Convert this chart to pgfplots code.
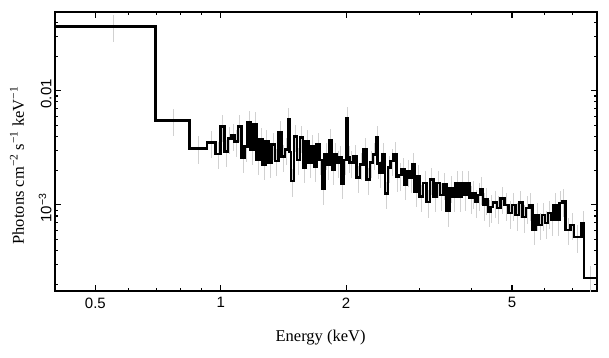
\documentclass[border=0pt]{standalone}
\usepackage{fontspec}
\setmainfont{Liberation Serif}
\setsansfont{Liberation Sans}
\usepackage{pgfplots}
\usepackage{pgfplotstable}
\pgfplotsset{compat=1.18}
\pgfplotstableread{
E Ec F
0.400 0.552 0.0364
0.697 0.769 5.48e-3
0.840 0.882 3.14e-3
0.927 0.948 3.52e-3
0.970 0.985 2.80e-3
1.00 1.01 4.84e-3
1.02 1.03 2.92e-3
1.04 1.05 3.81e-3
1.06 1.07 4.03e-3
1.08 1.09 3.57e-3
1.10 1.11 4.84e-3
1.12 1.13 2.59e-3
1.14 1.15 3.23e-3
1.16 1.17 5.24e-3
1.18 1.19 3.04e-3
1.20 1.21 5.13e-3
1.22 1.23 2.48e-3
1.24 1.25 3.72e-3
1.26 1.27 2.25e-3
1.28 1.29 3.57e-3
1.300 1.3125 2.34e-3
1.325 1.3375 3.36e-3
1.350 1.3625 2.43e-3
1.375 1.3875 4.29e-3
1.400 1.4125 2.64e-3
1.425 1.4375 3.04e-3
1.450 1.456 5.57e-3
1.4625 1.469 2.90e-3
1.475 1.4875 1.62e-3
1.500 1.5125 3.95e-3
1.525 1.5375 2.48e-3
1.550 1.5625 3.88e-3
1.575 1.5875 2.12e-3
1.600 1.6125 3.57e-3
1.625 1.6375 2.34e-3
1.650 1.6625 3.23e-3
1.675 1.6875 2.16e-3
1.700 1.7125 3.36e-3
1.725 1.7375 2.48e-3
1.750 1.7625 1.38e-3
1.775 1.7875 2.75e-3
1.800 1.8125 2.25e-3
1.825 1.8375 3.65e-3
1.850 1.8625 2.03e-3
1.875 1.8875 2.75e-3
1.900 1.9125 2.34e-3
1.925 1.9375 2.59e-3
1.950 1.9625 1.53e-3
1.975 1.9875 2.48e-3
2.00 2.01 5.68e-3
2.02 2.03 2.60e-3
2.04 2.06 2.34e-3
2.08 2.10 2.64e-3
2.12 2.14 1.73e-3
2.16 2.18 2.25e-3
2.20 2.22 3.04e-3
2.24 2.26 1.66e-3
2.28 2.30 2.34e-3
2.32 2.34 2.75e-3
2.36 2.37 3.88e-3
2.38 2.39 2.30e-3
2.40 2.42 1.91e-3
2.44 2.46 2.75e-3
2.48 2.50 1.25e-3
2.52 2.54 2.12e-3
2.56 2.58 2.43e-3
2.60 2.62 2.80e-3
2.64 2.66 1.77e-3
2.68 2.70 1.83e-3
2.72 2.74 2.03e-3
2.76 2.78 1.50e-3
2.80 2.82 1.95e-3
2.84 2.86 1.73e-3
2.88 2.90 2.25e-3
2.92 2.94 1.30e-3
2.96 2.98 1.77e-3
3.00 3.03 1.18e-3
3.06 3.09 1.56e-3
3.12 3.15 1.06e-3
3.18 3.21 1.66e-3
3.24 3.27 1.18e-3
3.30 3.33 1.56e-3
3.36 3.39 1.22e-3
3.42 3.45 1.50e-3
3.48 3.51 8.85e-4
3.54 3.57 1.41e-3
3.60 3.63 1.18e-3
3.66 3.69 1.56e-3
3.72 3.75 1.18e-3
3.78 3.81 1.56e-3
3.84 3.87 1.22e-3
3.90 3.93 1.56e-3
3.96 3.99 1.15e-3
4.02 4.05 1.27e-3
4.08 4.11 1.06e-3
4.14 4.17 1.22e-3
4.20 4.23 1.38e-3
4.26 4.29 1.00e-3
4.32 4.35 1.11e-3
4.38 4.41 8.69e-4
4.44 4.47 9.60e-4
4.50 4.55 1.05e-3
4.60 4.65 9.40e-4
4.70 4.75 1.13e-3
4.80 4.85 1.00e-3
4.90 4.95 8.50e-4
5.00 5.05 1.00e-3
5.10 5.15 8.17e-4
5.20 5.25 1.05e-3
5.30 5.35 7.85e-4
5.40 5.45 9.40e-4
5.50 5.55 1.00e-3
5.60 5.65 6.04e-4
5.70 5.75 8.17e-4
5.80 5.85 6.68e-4
5.90 5.95 8.17e-4
6.00 6.05 6.95e-4
6.10 6.15 8.50e-4
6.20 6.25 7.38e-4
6.30 6.35 1.00e-3
6.40 6.45 7.38e-4
6.50 6.55 1.04e-3
6.60 6.66 1.08e-3
6.73 6.82 6.04e-4
6.92 6.98 6.68e-4
7.04 7.19 5.24e-4
7.35 7.40 6.95e-4
7.45 7.72 2.29e-4
8.00 nan 2.29e-4
}\spec

\begin{document}
\begin{tikzpicture}
\begin{axis}[
  name=ax,
  xmode=log, ymode=log,
  scale only axis,
  width=542pt, height=279pt,
  xmin=0.4, xmax=8, ymin=1.76e-4, ymax=0.049,
  axis line style={line width=1.2pt},
  tick style={line width=1.1pt, black},
  tick align=inside,
  xtick pos=both, ytick pos=both,
  xticklabel pos=lower, yticklabel pos=left,
  major tick length=6pt, minor tick length=3.5pt,
  xtick={0.5,1,2,5}, xticklabels={0.5,1,2,5},
  minor xtick={0.4,0.6,0.7,0.8,0.9,3,4,6,7,8},
  ytick={0.001,0.01}, yticklabels={10\textsuperscript{−3},0.01},
  minor ytick={2e-4,3e-4,4e-4,5e-4,6e-4,7e-4,8e-4,9e-4,2e-3,3e-3,4e-3,5e-3,6e-3,7e-3,8e-3,9e-3,0.02,0.03,0.04},
  ticklabel style={font=\sffamily\fontsize{15}{18}\selectfont},
  xticklabel style={yshift=-3pt},
  yticklabel style={rotate=90, anchor=south, xshift=-3pt},
  xlabel={Energy (keV)},
  ylabel={Photons cm\textsuperscript{−2} s\textsuperscript{−1} keV\textsuperscript{−1}},
  label style={font=\fontsize{16.5}{19}\selectfont},
  xlabel style={at={(axis description cs:0.49,-0.168)}, anchor=center},
  ylabel style={at={(axis description cs:-0.070,0.45)}, anchor=center, rotate=0},
]
\addplot[draw=none, mark=none, forget plot,
  error bars/.cd, y dir=both, y fixed relative=0.27, error mark=none,
  error bar style={draw=black!18, solid, line width=0.7pt}]
  table[x=Ec, y=F] {\spec};
\addplot[const plot, black, line width=2.7pt, mark=none] table[x=E, y=F] {\spec};
\end{axis}
\path ([xshift=-55pt,yshift=-66pt]ax.south west) rectangle ([xshift=12pt,yshift=12pt]ax.north east);
\end{tikzpicture}
\end{document}
